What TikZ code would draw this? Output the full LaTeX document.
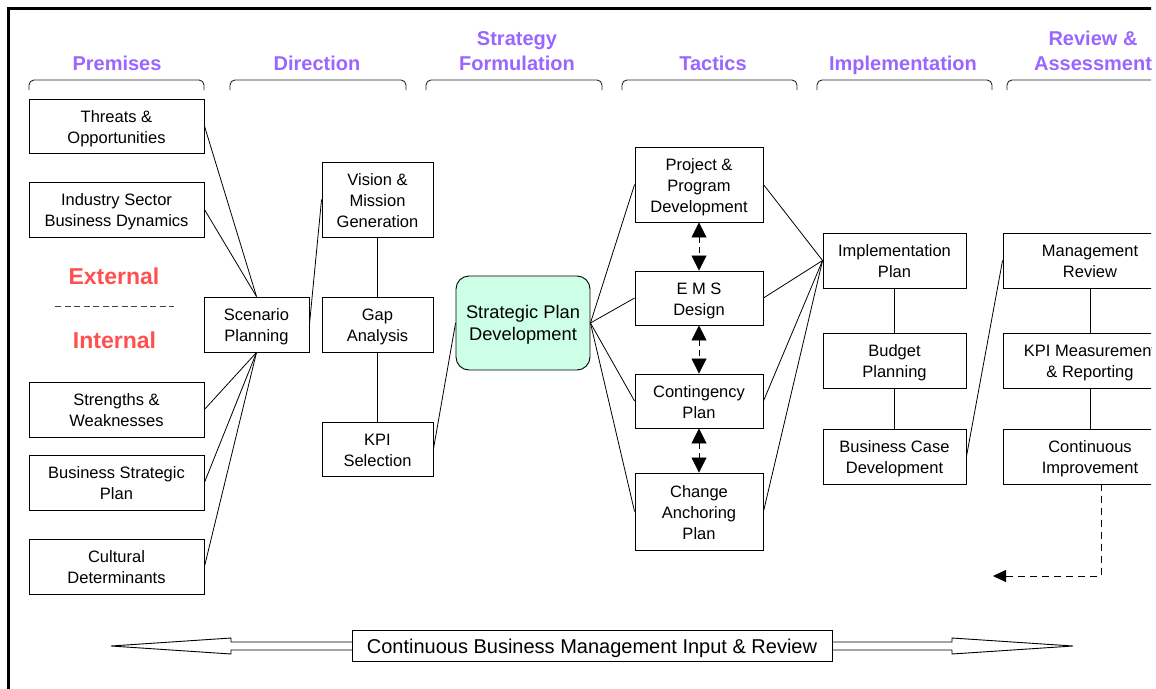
\documentclass[tikz,border=0pt]{standalone}
\usepackage{fontspec}
\setmainfont{Liberation Sans}
\usetikzlibrary{arrows.meta}
\definecolor{headcol}{RGB}{153,102,255}
\definecolor{sidecol}{RGB}{255,80,80}
\definecolor{mint}{RGB}{204,255,230}
\tikzset{
  box/.style={draw, line width=0.9pt, align=center, inner sep=0pt,
    font=\fontsize{16.5}{21}\selectfont},
  % fixed text boxes so that two- and three-line labels sit centred
  twoline/.style={text height=34pt, text depth=0pt},
  threeline/.style={text height=55pt, text depth=0pt},
  head/.style={text=headcol, align=center, inner sep=0pt, anchor=base,
    font=\fontsize{20}{25}\selectfont\bfseries},
  side/.style={text=sidecol, inner sep=0pt, font=\fontsize{23}{27}\selectfont\bfseries},
  link/.style={line width=0.8pt},
  brace/.style={line width=0.9pt, draw=black!85, rounded corners=5pt},
  swap/.style={line width=0.8pt, dash pattern=on 6pt off 4pt,
    {Triangle[length=15pt,width=15pt]}-{Triangle[length=15pt,width=15pt]}},
  loopback/.style={line width=0.8pt, dash pattern=on 7pt off 5pt,
    -{Triangle[length=13pt,width=12pt]}}
}
\begin{document}
\begin{tikzpicture}[x=1pt,y=-1pt]
\useasboundingbox (0,0) rectangle (1156,688);
\clip (0,0) rectangle (1151,688);

% outer frame
\draw[line width=2.7pt] (8.7,720) -- (8.7,8.7) -- (1200,8.7);

% column headings and their brackets
\node[head] (hPrem) at (117,70) {Premises};
\node[head] (hDir)  at (317,70) {Direction};
\node[head] (hStr)  at (517,70) {Strategy\\Formulation};
\node[head] (hTac)  at (713,70) {Tactics};
\node[head] (hImp)  at (903,70) {Implementation};
\node[head] (hRev)  at (1093,70) {Review \&\\Assessment};
\foreach \a/\b in {29/204, 230/406, 426/602, 622/797, 817/992, 1007/1200}
  \draw[brace] (\a,90) -- (\a,80) -- (\b,80) -- (\b,90);

% premises
\node[box, twoline, minimum width=175, minimum height=54] (threat)   at (116.5,126)   {Threats \&\\Opportunities};
\node[box, twoline, minimum width=175, minimum height=55] (industry) at (116.5,209.5) {Industry Sector\\Business Dynamics};
\node[side] (ext) at (114,276) {External};
\node[side] (int) at (114.5,340) {Internal};
\coordinate (sepL) at (55,306.5);
\coordinate (sepR) at (174,306.5);
\draw[line width=0.9pt, draw=black!75, dash pattern=on 6pt off 3.5pt] (sepL) -- (sepR);
\node[box, twoline, minimum width=175, minimum height=55] (strength) at (116.5,409.5) {Strengths \&\\Weaknesses};
\node[box, twoline, minimum width=175, minimum height=55] (bsp)      at (116.5,482.5) {Business Strategic\\Plan};
\node[box, twoline, minimum width=175, minimum height=55] (culture)  at (116.5,566.5) {Cultural\\Determinants};

% direction
\node[box, twoline,   minimum width=105, minimum height=55] (scen)   at (256.5,324.5) {Scenario\\Planning};
\node[box, threeline, minimum width=111, minimum height=75] (vision) at (377.5,199.5) {Vision \&\\Mission\\Generation};
\node[box, twoline,   minimum width=111, minimum height=55] (gap)    at (377.5,324.5) {Gap\\Analysis};
\node[box, twoline,   minimum width=111, minimum height=54] (kpisel) at (377.5,449)   {KPI\\Selection};

% strategy formulation
\node[box, fill=mint, rounded corners=13pt, minimum width=134, minimum height=94,
      font=\fontsize{18.3}{22}\selectfont, text height=35.2pt, text depth=0pt]
      (spd) at (523,323) {Strategic Plan\\Development};

% tactics
\node[box, threeline, minimum width=128, minimum height=75] (proj)   at (699,184.5) {Project \&\\Program\\Development};
\node[box, twoline,   minimum width=128, minimum height=54] (ems)    at (699,298)   {E M S\\Design};
\node[box, twoline,   minimum width=128, minimum height=54] (cont)   at (699,401)   {Contingency\\Plan};
\node[box, threeline, minimum width=128, minimum height=77] (change) at (699,511.5) {Change\\Anchoring\\Plan};

% implementation
\node[box, twoline, minimum width=143, minimum height=55] (implan) at (894.5,260.5) {Implementation\\Plan};
\node[box, twoline, minimum width=143, minimum height=55] (budget) at (894.5,360.5) {Budget\\Planning};
\node[box, twoline, minimum width=143, minimum height=55] (bcase)  at (894.5,456.5) {Business Case\\Development};

% review and assessment
\node[box, twoline, minimum width=174, minimum height=55] (mrev) at (1090,260.5) {Management\\Review};
\node[box, twoline, minimum width=174, minimum height=55] (kpim) at (1090,360.5) {KPI Measurement\\\& Reporting};
\node[box, twoline, minimum width=174, minimum height=55] (ci)   at (1090,456.5) {Continuous\\Improvement};

% connectors
\foreach \n in {threat, industry}
  \draw[link] (\n.east) -- (scen.north);
\foreach \n in {strength, bsp, culture}
  \draw[link] (\n.east) -- (scen.south);
\draw[link] (scen.east) -- (vision.west);
\draw[link] (vision) -- (gap);
\draw[link] (gap) -- (kpisel);
\draw[link] (kpisel.east) -- (spd.west);
\foreach \n in {proj, ems, cont, change} {
  \draw[link] (spd.east) -- (\n.west);
  \draw[link] (\n.east) -- (implan.west);
}
\draw[swap] (proj.south) -- (ems.north);
\draw[swap] (ems.south) -- (cont.north);
\draw[swap] (cont.south) -- (change.north);
\draw[link] (implan) -- (budget);
\draw[link] (budget) -- (bcase);
\draw[link] (bcase.east) -- (mrev.west);
\draw[link] (mrev) -- (kpim);
\draw[link] (kpim) -- (ci);
\coordinate (loopEnd) at (993,576);
\draw[loopback] ([xshift=11pt]ci.south) |- (loopEnd);

% continuous management double arrow
\draw[line width=0.9pt, fill=white]
  (111,646) -- (231,638) -- (231,642) -- (952,642) -- (952,638) -- (1073,646)
  -- (952,654) -- (952,650) -- (231,650) -- (231,654) -- cycle;
\node[box, fill=white, minimum width=480, minimum height=31,
      font=\fontsize{20}{24}\selectfont, text height=15.4pt, text depth=0pt]
      (cbm) at (592,645.5) {Continuous Business Management Input \& Review};
\end{tikzpicture}
\end{document}
